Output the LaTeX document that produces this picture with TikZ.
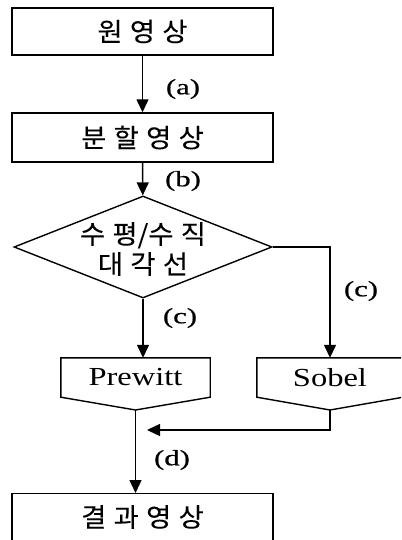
\documentclass[tikz,border=0pt]{standalone}
\usepackage{fontspec}
\usepackage{graphicx}
\usepackage{tikz}
\setmainfont{Liberation Serif}
\newfontfamily\kr[FakeBold=0.1]{Noto Sans CJK KR}
\newfontfamily\lf[FakeBold=0.6]{Liberation Serif}
\usetikzlibrary{shapes.geometric, arrows.meta}
\newcommand{\ks}{\hspace{7pt}}
\newcommand{\kt}[1]{\scalebox{1.05}[1]{\kr #1}}
\newcommand{\et}[1]{\scalebox{1.25}[1]{#1}}
\newcommand{\lt}[1]{\scalebox{1.4}[1]{\lf #1}}

\begin{document}
\begin{tikzpicture}[x=1pt, y=-1pt,
    box/.style={draw, line width=1.4pt, inner sep=0pt},
    flow/.style={line width=1.4pt, -{Triangle[length=13pt,width=12pt]}},
    ktext/.style={font=\fontsize{26pt}{30pt}\selectfont},
    etext/.style={font=\fontsize{26pt}{30pt}\selectfont},
    lbl/.style={font=\fontsize{22pt}{24pt}\selectfont}]
      \clip (0,0) rectangle (401,540);
      \node[box, ktext, minimum width=261pt, minimum height=47pt] (orig) at (142.5,31.5) {\kt{원\ks 영\ks 상}};
      \node[box, ktext, minimum width=261pt, minimum height=49pt] (split) at (142.5,137.5) {\kt{분\ks 할\ks 영\ks 상}};
      \node[box, shape=diamond, minimum width=258pt, minimum height=102pt] (dia) at (143,247) {};
      \node[ktext, align=center] (diatext) at (143,249) {\kt{수\ks 평/수\ks 직}\\\kt{대\ks 각\ks 선}};
      \node[etext, inner sep=0pt, minimum width=149pt, minimum height=39pt] (pre) at (135.5,377.5) {\et{Prewitt}};
      \node[etext, inner sep=0pt, minimum width=146pt, minimum height=39pt] (sob) at (330,377.5) {\et{Sobel}};
      \node[box, minimum width=261pt, minimum height=70pt, anchor=north] (res) at (142.5,493) {};
      \node[ktext] (restext) at (142.5,517) {\kt{결\ks 과\ks 영\ks 상}};
      \coordinate (preTip) at (135.5,410);
      \coordinate (sobTip) at (330,410);
      \coordinate (join) at (147,430);
        % filter boxes
      \draw[box] (pre.north west) -- (pre.north east) -- (pre.south east) -- (preTip) -- (pre.south west) -- cycle;
      \draw[box] (sob.north west) -- (sob.north east) -- (sob.south east) -- (sobTip) -- (sob.south west) -- cycle;
        % edge labels
      \node[lbl] (la) at (183,89) {\lt{(a)}};
      \node[lbl] (lb) at (183,181) {\lt{(b)}};
      \node[lbl] (lc) at (180,318) {\lt{(c)}};
      \node[lbl] (lc2) at (361,291) {\lt{(c)}};
      \node[lbl] (ld) at (172,460) {\lt{(d)}};
      \draw[flow] (orig) -- (split);
      \draw[flow] (split) -- (dia);
      \draw[flow] (dia.south) -- (dia.south |- pre.north);
      \draw[flow] (dia.east) -| (sob.north);
      \draw[flow] (preTip) -- (preTip |- res.north);
      \draw[flow] (sobTip) |- (join);
    \end{tikzpicture}
\end{document}
